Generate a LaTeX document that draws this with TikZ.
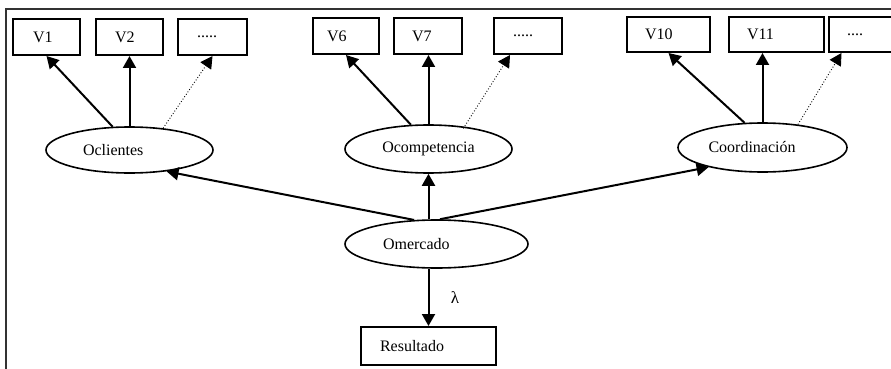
\documentclass[tikz,border=0pt]{standalone}
\usepackage{fontspec}
\setmainfont{Liberation Serif}
\usetikzlibrary{arrows.meta,shapes.geometric}

% text set flush left in a box of given width
\newcommand{\lbox}[2]{\makebox[#1][l]{#2}}

\tikzset{
  box/.style={draw,line width=2pt,minimum height=36pt,inner sep=0pt,font=\fontsize{16}{18}\selectfont},
  oval/.style={draw,ellipse,line width=1.6pt,inner sep=0pt,font=\fontsize{16}{18}\selectfont},
  arr/.style={line width=2pt,-{Triangle[length=12pt,width=13pt]}},
  dotarr/.style={line width=0.9pt,dotted,-{Triangle[length=12pt,width=13pt]}}
}

\begin{document}
\begin{tikzpicture}[x=1pt,y=-1pt]
  \useasboundingbox (0,0) rectangle (891,369);
  % frame
  \draw[line width=1.5pt,black!80] (6,369) -- (6,9) -- (895,9);

  % boxes
  \node[box,at={(46.5,37)},minimum width=67pt] (v1) {\lbox{27pt}{V1}};
  \node[box,at={(129.5,37)},minimum width=67pt] (v2) {\lbox{29pt}{V2}};
  \node[box,at={(212.5,37)},minimum width=69pt] (dotsa) {\lbox{31pt}{.....}};
  \node[box,at={(346,36)},minimum width=66pt] (v6) {\lbox{38pt}{V6}};
  \node[box,at={(428,36)},minimum width=68pt] (v7) {\lbox{32pt}{V7}};
  \node[box,at={(528,36)},minimum width=68pt] (dotsb) {\lbox{30pt}{.....}};
  \node[box,at={(668.5,34.5)},minimum width=83pt,minimum height=35pt] (v10) {\lbox{47pt}{V10}};
  \node[box,at={(776.5,34.5)},minimum width=95pt,minimum height=35pt] (v11) {\lbox{59pt}{V11}};
  \node[box,at={(869.5,34.5)},minimum width=81pt,minimum height=35pt] (dotsc) {\lbox{45pt}{....}};
  \node[box,at={(428.5,346)},minimum width=135pt,minimum height=38pt] (res) {\lbox{97pt}{Resultado}};

  % ellipses
  \node[oval,at={(129.5,150)},minimum width=167pt,minimum height=46pt] (ocl) {\lbox{93pt}{Oclientes}};
  \node[oval,at={(428.5,149)},minimum width=167pt,minimum height=48pt] (ocm) {Ocompetencia};
  \node[oval,at={(762.5,147.5)},minimum width=169pt,minimum height=49pt] (coo) {\lbox{108pt}{Coordinación}};
  \node[oval,at={(436.5,244)},minimum width=183pt,minimum height=48pt] (ome) {\lbox{107pt}{Omercado}};

  % arrows
  \draw[arr] (ocl.126) -- (v1.south);
  \draw[arr] (ocl.north) -- (v2.south);
  \draw[dotarr] (ocl.33) -- (dotsa.south);
  \draw[arr] (ocm.126) -- (v6.south);
  \draw[arr] (ocm.north) -- (ocm.north |- v7.south);
  \draw[dotarr] ([yshift=-2pt]ocm.33) -- ([xshift=-18pt]dotsb.south);
  \draw[arr] (coo.126) -- (v10.south);
  \draw[arr] (coo.north) -- (coo.north |- v11.south);
  \draw[dotarr] (coo.33) -- ([xshift=-28pt]dotsc.south);

  \draw[arr] (ome.133) -- (ocl.-30);
  \draw[arr] (ocm.south |- ome.north) -- (ocm.south);
  \draw[arr] (ome.82) -- (coo.200);
  \draw[arr] (res.north |- ome.south) -- node[right=18pt,font=\fontsize{17}{18}\selectfont] {λ} (res.north);
\end{tikzpicture}
\end{document}
